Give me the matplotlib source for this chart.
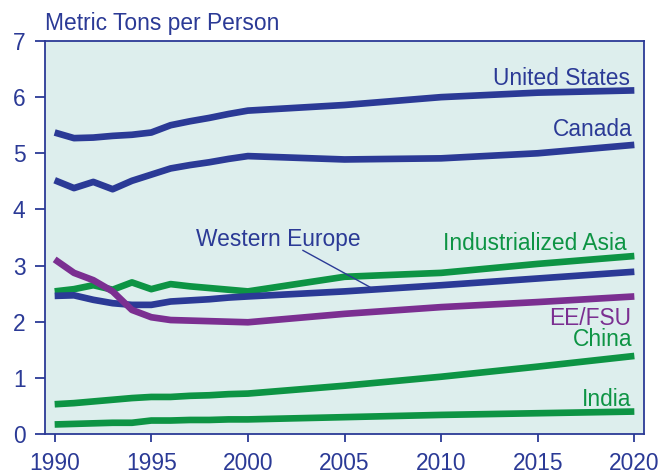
import matplotlib
matplotlib.use('Agg')
from matplotlib import pyplot as plt

plt.rcParams['font.family'] = ['Liberation Sans', 'DejaVu Sans']

years = [1990, 1991, 1992, 1993, 1994, 1995, 1996, 1997, 1998, 1999, 2000, 2005, 2010, 2015, 2020]

united_states = [5.37, 5.27, 5.28, 5.31, 5.33, 5.37, 5.50, 5.57, 5.63, 5.70, 5.76, 5.86, 6.00, 6.08, 6.12]
canada = [4.52, 4.38, 4.49, 4.36, 4.51, 4.62, 4.73, 4.79, 4.84, 4.90, 4.95, 4.89, 4.91, 5.00, 5.15]
western_europe = [2.46, 2.47, 2.39, 2.33, 2.30, 2.30, 2.36, 2.38, 2.40, 2.43, 2.45, 2.54, 2.65, 2.77, 2.89]
industrialized_asia = [2.54, 2.58, 2.65, 2.57, 2.70, 2.58, 2.67, 2.63, 2.60, 2.57, 2.54, 2.80, 2.87, 3.03, 3.17]
ee_fsu = [3.11, 2.87, 2.74, 2.54, 2.21, 2.08, 2.03, 2.02, 2.01, 2.00, 1.99, 2.14, 2.26, 2.35, 2.45]
china = [0.53, 0.55, 0.58, 0.61, 0.64, 0.66, 0.66, 0.68, 0.69, 0.71, 0.72, 0.86, 1.02, 1.20, 1.39]
india = [0.17, 0.18, 0.19, 0.20, 0.20, 0.24, 0.24, 0.25, 0.25, 0.26, 0.26, 0.30, 0.34, 0.37, 0.40]

blue = '#2b3a96'
green = '#0d9444'
purple = '#7b2f91'
bg = '#ddeeed'

fig = plt.figure(figsize=(6.61, 4.74), dpi=100)
ax = fig.add_axes([45 / 661, 40 / 474, 599 / 661, 393 / 474])
ax.set_facecolor(bg)

lw = 4.8
ax.plot(years, united_states, color=blue, lw=lw, solid_capstyle='butt')
ax.plot(years, canada, color=blue, lw=lw, solid_capstyle='butt')
ax.plot(years, industrialized_asia, color=green, lw=lw, solid_capstyle='butt')
ax.plot(years, western_europe, color=blue, lw=lw, solid_capstyle='butt')
ax.plot(years, ee_fsu, color=purple, lw=lw, solid_capstyle='butt')
ax.plot(years, china, color=green, lw=lw, solid_capstyle='butt')
ax.plot(years, india, color=green, lw=lw, solid_capstyle='butt')

fs = 16.4
ax.text(2019.75, 6.22, 'United States', color=blue, fontsize=fs, ha='right', va='baseline')
ax.text(2019.9, 5.30, 'Canada', color=blue, fontsize=fs, ha='right', va='baseline')
ax.text(1997.3, 3.35, 'Western Europe', color=blue, fontsize=fs, ha='left', va='baseline')
ax.plot([2002.85, 2006.3], [3.27, 2.62], color=blue, lw=1)
ax.text(2019.6, 3.28, 'Industrialized Asia', color=green, fontsize=fs, ha='right', va='baseline')
ax.text(2019.85, 1.95, 'EE/FSU', color=purple, fontsize=fs, ha='right', va='baseline')
ax.text(2019.9, 1.57, 'China', color=green, fontsize=fs, ha='right', va='baseline')
ax.text(2019.85, 0.49, 'India', color=green, fontsize=fs, ha='right', va='baseline')

ax.text(0, 1.027, 'Metric Tons per Person', color=blue, fontsize=fs,
        ha='left', va='baseline', transform=ax.transAxes)

ax.set_xlim(1989.5, 2020.5)
ax.set_ylim(0, 7)
ax.set_xticks(range(1990, 2021, 5))
ax.set_yticks(range(0, 8))

for side in ['left', 'bottom', 'right', 'top']:
    ax.spines[side].set_color(blue)
    ax.spines[side].set_linewidth(1.3)

ax.tick_params(axis='both', colors=blue, labelsize=fs, width=1.3, direction='out')
ax.tick_params(axis='x', length=6, pad=7)
ax.tick_params(axis='y', length=7, pad=7)

fig.savefig('out.png', dpi=100)
